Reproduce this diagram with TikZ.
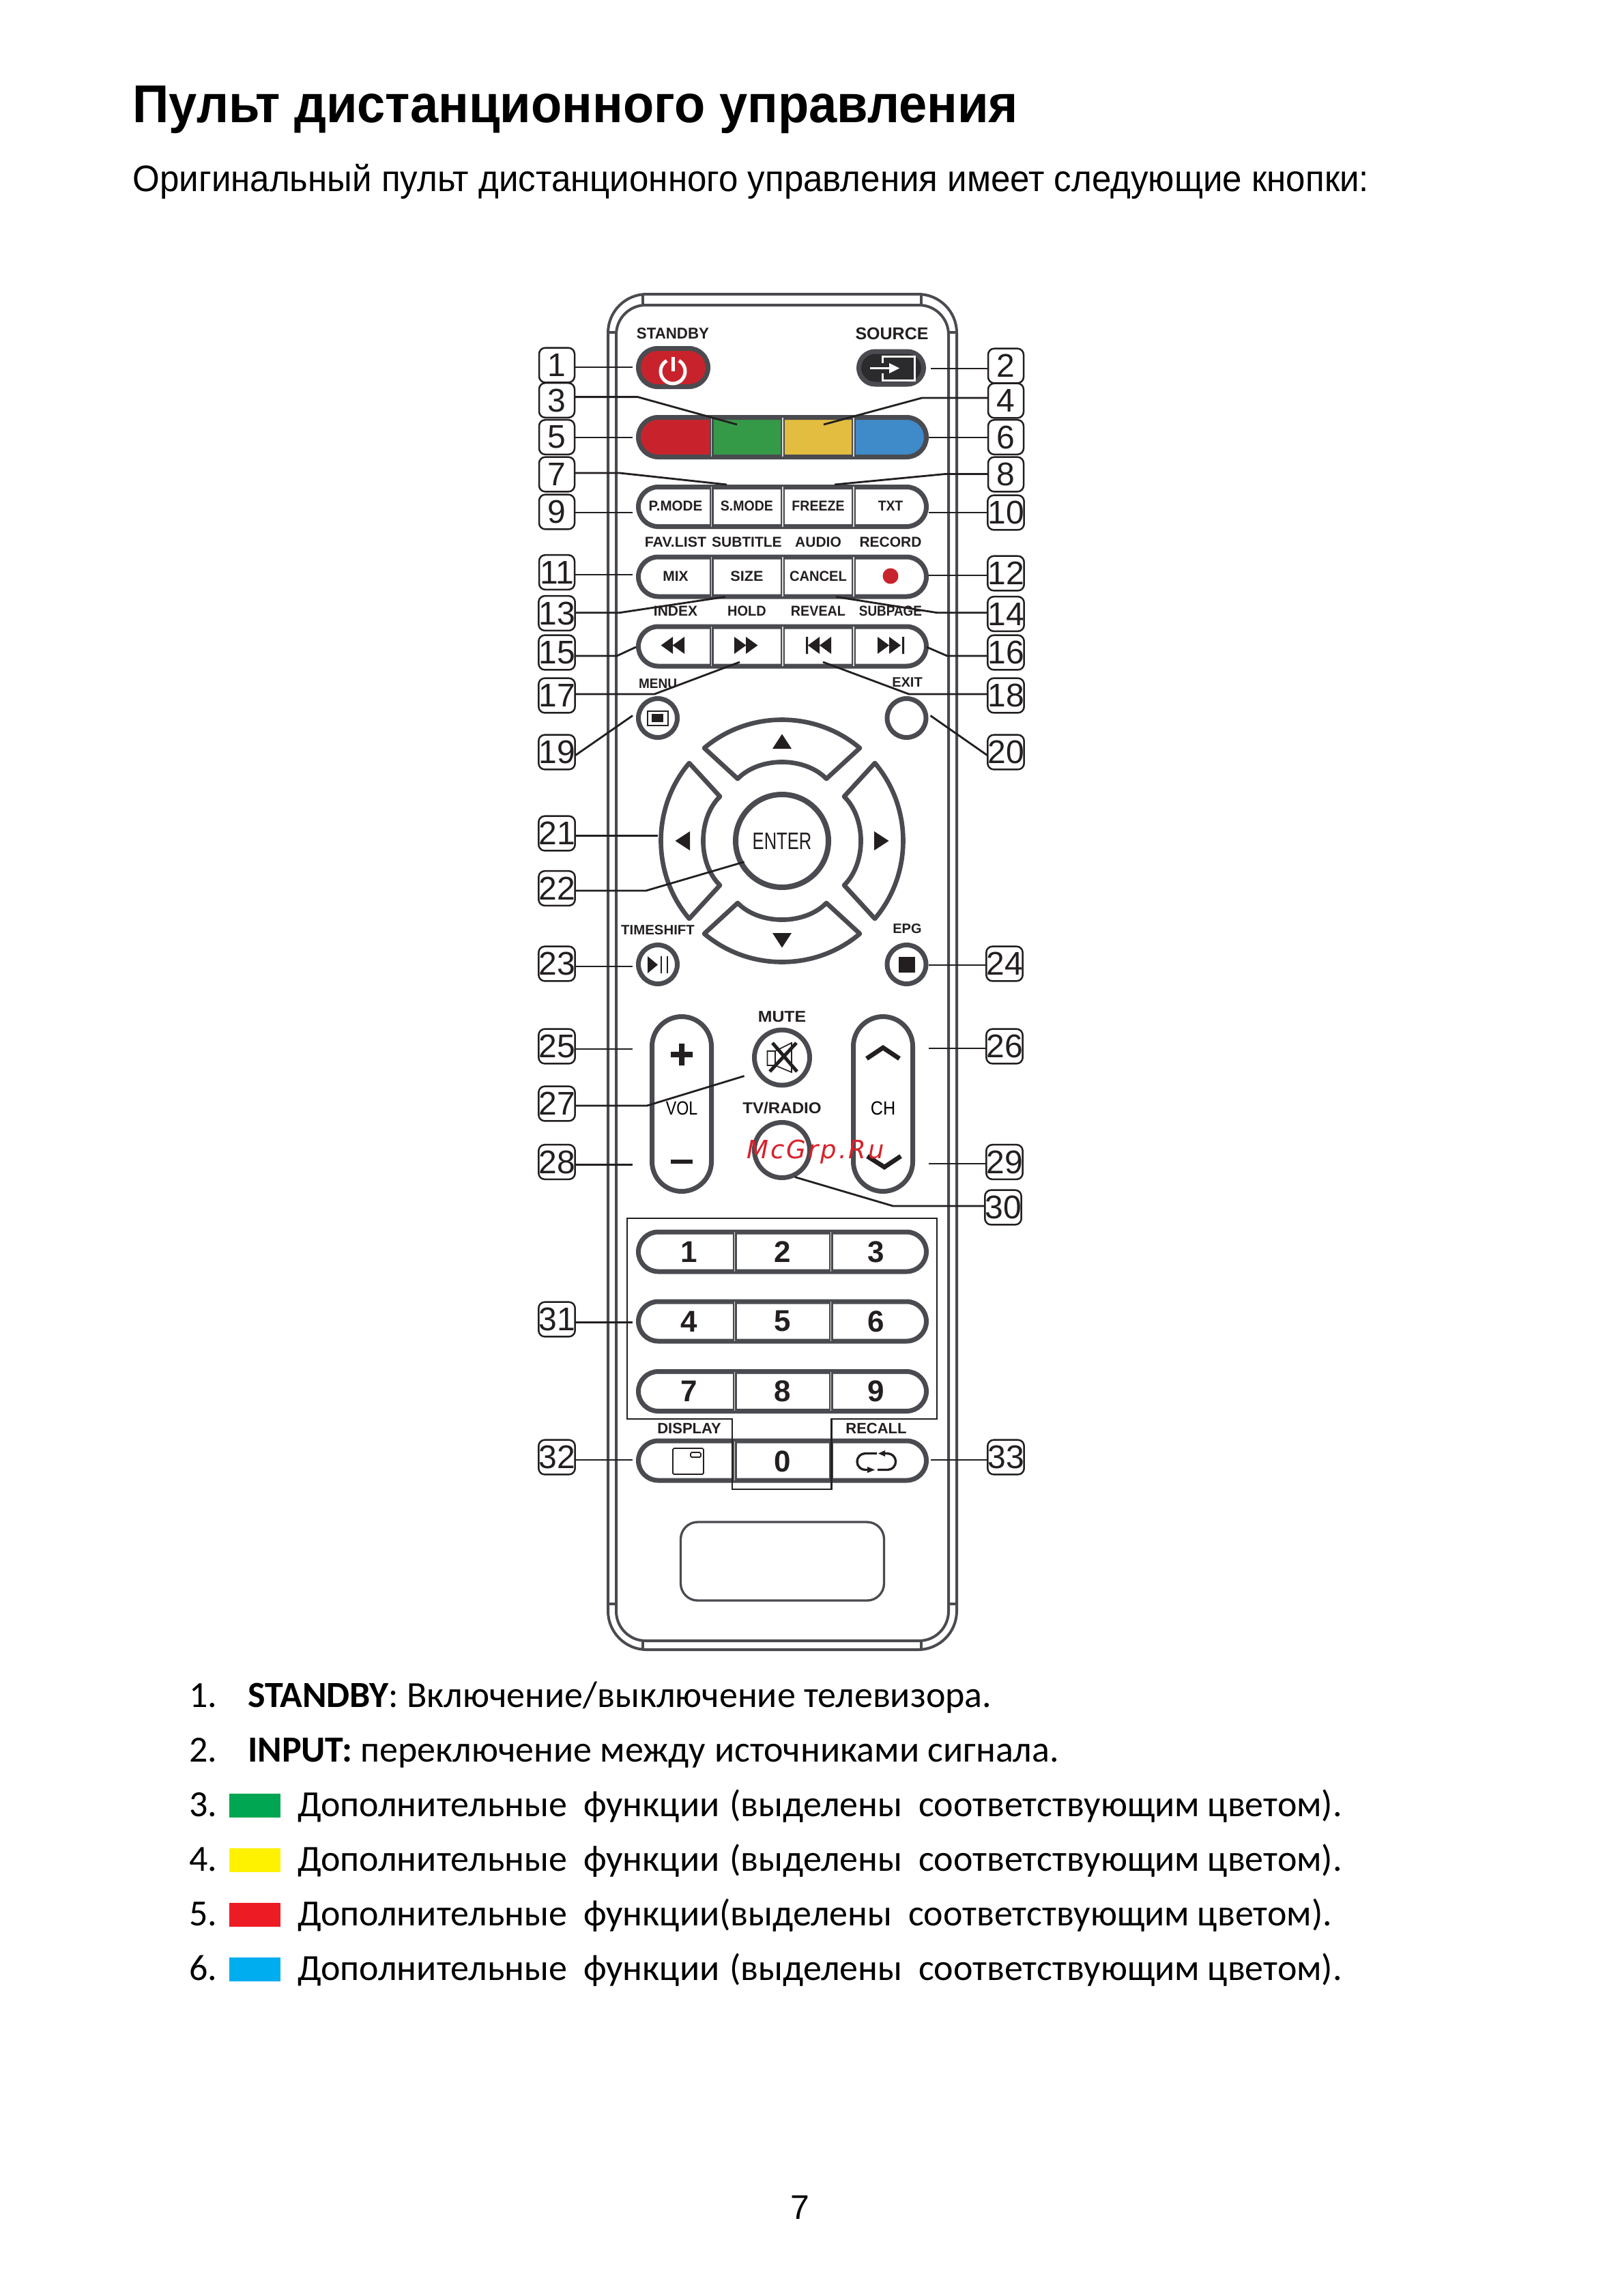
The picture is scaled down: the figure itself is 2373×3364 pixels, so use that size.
\documentclass[tikz,border=0pt]{standalone}
\usepackage{fontspec}
\setmainfont{Liberation Sans}
\newfontfamily\calfont{Carlito}
\newfontfamily\wmfont[LetterSpace=8]{DejaVu Sans}
\usetikzlibrary{shapes.misc,calc}
\definecolor{kg}{HTML}{4A4B50}
\definecolor{kk}{HTML}{231F20}
\definecolor{kR}{HTML}{C8232C}
\definecolor{kD}{HTML}{2B2A2D}
\definecolor{kG}{HTML}{359A48}
\definecolor{kY}{HTML}{E3BD3F}
\definecolor{kB}{HTML}{3F8AC8}
\definecolor{kGs}{HTML}{00A651}
\definecolor{kYs}{HTML}{FFF200}
\definecolor{kRs}{HTML}{ED1C24}
\definecolor{kBs}{HTML}{00AEEF}
\definecolor{kW}{HTML}{D8202A}
\newcommand{\fp}[1]{\fontsize{\fpeval{#1*0.3}pt}{\fpeval{#1*0.36}pt}\selectfont}
\newcommand{\nar}[2]{\scalebox{#1}[1]{#2}}
\tikzset{
 x=0.3pt,y=-0.3pt,
 bodyline/.style={draw=kg,line width=1.2pt},
 pillst/.style={rounded rectangle,draw=kg,line width=2.1pt,inner sep=0pt,outer sep=0pt,fill=white,minimum width=0.3pt*422,minimum height=0.3pt*58},
 circst/.style={circle,draw=kg,line width=2.1pt,inner sep=0pt,outer sep=0pt,minimum size=0.3pt*57,fill=white},
 bigcirc/.style={circle,draw=kg,line width=2.1pt,inner sep=0pt,outer sep=0pt,minimum size=0.3pt*81,fill=white},
 sepst/.style={draw=kg,line width=1.8pt},
 sepin/.style={draw=white!85!black,line width=0.35pt},
 num/.style={draw=kk,line width=0.75pt,rounded corners=2.7pt,inner sep=0pt,outer sep=0pt,minimum width=15.6pt,minimum height=15.2pt,font=\fp{48},text=kk},
 lead/.style={draw=kk,line width=0.85pt},
 kl/.style={font=\fp{21}\bfseries,text=kk,inner sep=0pt,outer sep=0pt},
 dg/.style={font=\fp{44}\bfseries,text=kk,inner sep=0pt},
 bodytxt/.style={font=\calfont\fp{54},text=black,anchor=base west,inner sep=0pt,outer sep=0pt},
 ic/.style={fill=kk,draw=none},
 icl/.style={draw=kk,line width=1pt},
 swatch/.style={draw=none,inner sep=0pt,outer sep=0pt,minimum width=0.3pt*75,minimum height=0.3pt*35},
}
\newcommand{\sepsat}[2]{\foreach \s in {1042.5,1147,1251}{\draw[sepst] (\s,#1)--(\s,#2);\draw[sepin] (\s,#1)--(\s,#2);}}
\newcommand{\dsepsat}[2]{\foreach \s in {1076.5,1217.5}{\draw[sepst] (\s,#1)--(\s,#2);\draw[sepin] (\s,#1)--(\s,#2);}}
\newcommand{\dpline}{Дополнительные\hspace{7.2pt}функции\hspace{4.5pt}(выделены\hspace{7pt}соответствующим\hspace{3.5pt}цветом).}
\begin{document}
\begin{tikzpicture}
\useasboundingbox[fill=white] (0,0) rectangle (2373,3364);
% heading
\node[font=\fp{78}\bfseries,anchor=base west,inner sep=0pt] (title) at (194,179) {\nar{.95}{Пульт дистанционного управления}};
\node[font=\fp{54},anchor=base west,inner sep=0pt] (sub) at (194,280) {\nar{.946}{Оригинальный пульт дистанционного управления имеет следующие кнопки:}};
% remote body
\path[bodyline,rounded corners=17pt] (891,431) rectangle (1402,2417);
\path[bodyline,rounded corners=13pt] (903,447) rectangle (1390,2404);
\draw[bodyline] (942,431)--(942,447) (1350,431)--(1350,447) (891,487)--(903,487) (1390,487)--(1402,487);
\draw[bodyline] (942,2404)--(942,2417) (1350,2404)--(1350,2417) (891,2350)--(903,2350) (1390,2350)--(1402,2350);
% recess
\node[draw=kg,line width=1pt,rounded corners=7.5pt,inner sep=0pt,minimum width=0.3pt*298,minimum height=0.3pt*115] (recess) at (1146.5,2287.5) {};
% top keys
\node[pillst,fill=kR,minimum width=0.3pt*102,minimum height=0.3pt*56] (standby) at (986.5,538.5) {};
\node[pillst,fill=kD,minimum width=0.3pt*95,minimum height=0.3pt*48] (source) at (1306,539) {};
\draw[white,line width=1.5pt] (995,528.4) arc[start angle=-60,end angle=240,radius=18];
\draw[white,line width=1.5pt] (986,523)--(986,544);
\draw[white,line width=0.9pt] (1293,532)--(1293,522)--(1340,522)--(1340,557)--(1293,557)--(1293,547);
\draw[white,line width=0.9pt] (1275,539.5)--(1305,539.5);
\fill[white] (1303,532)--(1318,539.5)--(1303,547)--cycle;
\node[kl,font=\fp{23}\bfseries] (tstandby) at (986,489) {\nar{.97}{STANDBY}};
\node[kl,font=\fp{25}\bfseries] (tsource) at (1307,489) {SOURCE};
% colour bar
\begin{scope}
\clip[rounded corners=8.7pt] (935.5,611.5) rectangle (1357.5,669.5);
\fill[kR] (930,600) rectangle (1042,680);
\fill[kG] (1042,600) rectangle (1147,680);
\fill[kY] (1147,600) rectangle (1251,680);
\fill[kB] (1251,600) rectangle (1361,680);
\end{scope}
\node[pillst,fill=none] (colorbar) at (1146.5,640.5) {};
\sepsat{612}{669}
% text rows
\node[pillst] (row1) at (1146.5,742.5) {};
\sepsat{713}{772}
\node[pillst] (row2) at (1146.5,845) {};
\sepsat{816}{874}
\node[pillst] (row3) at (1146.5,947) {};
\sepsat{918}{976}
\foreach \t/\x/\f in {P.MODE/990/.98,S.MODE/1094.4/.93,FREEZE/1199/.93,TXT/1305/.92}{\node[kl] (k\t) at (\x,741) {\nar{\f}{\t}};}
\foreach \t/\x/\f in {FAV.LIST/990/1.02,SUBTITLE/1094.4/1,AUDIO/1199/1,RECORD/1305/1}{\node[kl] (k\t) at (\x,794) {\nar{\f}{\t}};}
\foreach \t/\x/\f in {MIX/990/1,SIZE/1094.4/1.03,CANCEL/1199/.96}{\node[kl] (k\t) at (\x,844) {\nar{\f}{\t}};}
\node[circle,fill=kR,inner sep=0pt,minimum size=0.3pt*23] (recdot) at (1305,844) {};
\foreach \t/\x/\f in {INDEX/990/1,HOLD/1094.4/.95,REVEAL/1199/.94,SUBPAGE/1305/.9}{\node[kl] (k\t) at (\x,895.5) {\nar{\f}{\t}};}
% transport icons
\fill[kk] (986,933)--(986,958)--(968.6,945.5)--cycle (1003,933)--(1003,958)--(985.6,945.5)--cycle;
\fill[kk] (1076,933)--(1076,958)--(1093.4,945.5)--cycle (1093,933)--(1093,958)--(1110.4,945.5)--cycle;
\fill[kk] (1181,933) rectangle (1184,958) (1201,933)--(1201,958)--(1184,945.5)--cycle (1218,933)--(1218,958)--(1201,945.5)--cycle;
\fill[kk] (1286,933)--(1286,958)--(1303,945.5)--cycle (1303,933)--(1303,958)--(1320,945.5)--cycle (1322,933) rectangle (1325,958);
% round keys
\node[circst] (menu) at (964,1052) {};
\node[circst] (exit) at (1328.5,1052) {};
\node[circst] (timeshift) at (964,1413) {};
\node[circst] (epg) at (1328.5,1413) {};
\node[kl,font=\fp{20}\bfseries] (tmenu) at (964,1002) {\nar{.95}{MENU}};
\node[kl,font=\fp{20}\bfseries] (texit) at (1329.5,1000) {\nar{1}{EXIT}};
\node[kl,font=\fp{20}\bfseries] (ttimeshift) at (964,1363) {\nar{1.02}{TIMESHIFT}};
\node[kl,font=\fp{20}\bfseries] (tepg) at (1329.5,1361) {\nar{1}{EPG}};
\draw[kk,line width=0.5pt] (949,1042) rectangle (979,1063);
\fill[kk] (955,1046) rectangle (972,1058);
\fill[kk] (949,1401)--(949,1426)--(964,1413.5)--cycle;
\draw[kk,line width=0.8pt] (969,1401)--(969,1426) (978,1401)--(978,1426);
\fill[kk] (1317,1402) rectangle (1341,1425);
% direction pad
\foreach \a in {0,90,180,270}{
 \begin{scope}[shift={(1146,1232)},rotate=\a]
 \draw[draw=kg,line width=2pt,fill=white,line join=round] (-114,-136) .. controls (-49,-191.3) and (49,-191.3) .. (114,-136) -- (65,-91) .. controls (33,-123.7) and (-33,-123.7) .. (-65,-91) -- cycle;
 \fill[kk] (0,-156.5)--(14,-135)--(-14,-135)--cycle;
 \end{scope}}
\node[circle,draw=kg,line width=2.4pt,inner sep=0pt,outer sep=0pt,minimum size=0.3pt*136,font=\fp{35},text=kk] (enter) at (1146,1232) {\nar{.73}{ENTER}};
% volume and channel
\node[rounded rectangle,rotate=90,draw=kg,line width=2.1pt,inner sep=0pt,outer sep=0pt,minimum width=0.3pt*256,minimum height=0.3pt*87] (vol) at (999,1617.5) {};
\node[rounded rectangle,rotate=90,draw=kg,line width=2.1pt,inner sep=0pt,outer sep=0pt,minimum width=0.3pt*256,minimum height=0.3pt*87] (ch) at (1294,1617.5) {};
\fill[kk] (983,1541) rectangle (1015,1549) (995,1529) rectangle (1003,1561);
\fill[kk] (983,1698.5) rectangle (1015,1704.5);
\node[kl,font=\fp{28},inner sep=0pt,text=black] (tvol) at (999,1623.5) {\nar{.83}{VOL}};
\node[kl,font=\fp{28},inner sep=0pt,text=black] (tch) at (1294,1623.5) {\nar{.9}{CH}};
\draw[kk,line width=2pt] (1270,1551)--(1294,1535)--(1318,1551);
\draw[kk,line width=2pt] (1271,1694)--(1296,1710)--(1320,1694);
\node[bigcirc] (mute) at (1146,1549.5) {};
\node[bigcirc] (tvradio) at (1146,1685) {};
\node[kl,font=\fp{23}\bfseries] (tmute) at (1146,1490) {\nar{1.08}{MUTE}};
\node[kl,font=\fp{23}\bfseries] (ttvradio) at (1146,1623.5) {\nar{1.05}{TV/RADIO}};
\draw[kk,line width=0.5pt] (1124.5,1540) rectangle (1136,1561) (1136,1540)--(1160,1528)--(1160,1571)--(1136,1561);
\draw[kk,line width=1.5pt] (1132,1528)--(1168,1570) (1128,1570)--(1167,1528);
% digit keys
\node[pillst] (d123) at (1146.5,1834) {};
\dsepsat{1805}{1863}
\node[pillst] (d456) at (1146.5,1936) {};
\dsepsat{1907}{1965}
\node[pillst] (d789) at (1146.5,2038.5) {};
\dsepsat{2010}{2067}
\node[pillst] (d0) at (1146.5,2140) {};
\dsepsat{2112}{2169}
\foreach \t/\x/\y in {1/1010/1834,2/1146.5/1834,3/1284/1834,4/1010/1936,5/1146.5/1936,6/1284/1936,7/1010/2038.5,8/1146.5/2038.5,9/1284/2038.5,0/1146.5/2141}{\node[dg] (dig\t) at (\x,\y) {\t};}
\node[kl,font=\fp{22}\bfseries] (tdisplay) at (1010,2093) {\nar{1}{DISPLAY}};
\node[kl,font=\fp{22}\bfseries] (trecall) at (1284,2093) {\nar{1}{RECALL}};
\draw[kk,line width=0.5pt,rounded corners=0.5pt] (986,2122)--(1031,2122)--(1031,2160)--(986,2160)--cycle (1012,2128) rectangle (1027,2135);
\draw[icl,rounded corners=3.6pt] (1285,2129.5)--(1256,2129.5)--(1256,2153.5)--(1272,2153.5);
\draw[icl,rounded corners=3.6pt] (1286,2153.5)--(1312.6,2153.5)--(1312.6,2129.5)--(1296,2129.5);
\fill[kk] (1297,2125)--(1297,2134)--(1287,2129.5)--cycle (1271,2149)--(1271,2158)--(1282,2153.5)--cycle;
% outline of the digit group
\draw[draw=kk,line width=0.85pt] (919,1785) -- (1373,1785) -- (1373,2079) -- (1218.5,2079) -- (1218.5,2182) -- (1073,2182) -- (1073,2079) -- (919,2079) -- cycle;
% number tags
\foreach \n/\x/\y in {1/816/535,3/816/586.5,5/816/640.5,7/816/695,9/816/750,11/816/838.5,13/816/898.5,15/816/956,17/816/1019,19/816/1102,21/816/1221,22/816/1301.5,23/816/1412,25/816/1533,27/816/1617,28/816/1702.5,31/816/1933,32/816/2135,2/1474/536,4/1474/587,6/1474/640.5,8/1474/695,10/1474/751,12/1474/840,14/1474/899.5,16/1474/956,18/1474/1019,20/1474/1102,24/1472/1412,26/1472/1533,29/1472/1702.5,30/1470/1769,33/1474/2135}{\node[num] (L\n) at (\x,\y) {\n};}
% leaders, straight
\foreach \n/\x/\y in {1/927/538,5/927/641,9/927/751,11/927/842,21/963.6/1224.5,23/927/1416,25/927/1537,28/927/1706.6,31/927/1937.5,32/927/2139}{
 \coordinate (e\n) at (\x,\y);
 \draw[lead] (L\n.east |- e\n) -- (e\n);}
\foreach \n/\x/\y in {2/1363.5/540,6/1361/641,10/1361/751,12/1361/843,24/1361/1414,26/1361/1536,29/1361/1705,33/1363.5/2139}{
 \coordinate (e\n) at (\x,\y);
 \draw[lead] (L\n.west |- e\n) -- (e\n);}
% leaders, with a bend
\foreach \n/\kx/\ky/\x/\y in {3/934.5/581.6/1080/622,7/908/693/1065/710,13/908/897.7/1063/874.4,15/904/961/932/948,17/959/1017/1084/970,22/946.6/1305/1090.6/1262.8,27/948/1620/1090.6/1576.5}{
 \coordinate (k\n) at (\kx,\ky); \coordinate (e\n) at (\x,\y);
 \draw[lead] (L\n.east |- k\n) -- (k\n) -- (e\n);}
\foreach \n/\kx/\ky/\x/\y in {4/1351/583/1207/622,8/1385/694.5/1223/710,14/1373/897.7/1225/874.4,16/1388/961/1358/948,18/1332/1017/1206/970,30/1308.7/1767/1164.7/1724.5}{
 \coordinate (k\n) at (\kx,\ky); \coordinate (e\n) at (\x,\y);
 \draw[lead] (L\n.west |- k\n) -- (k\n) -- (e\n);}
\coordinate (e19) at (927,1048.5);
\coordinate (k19) at (842,1107);
\draw[lead] (L19.east |- k19) -- (e19);
\coordinate (e20) at (1363.5,1048.5);
\coordinate (k20) at (1447,1107);
\draw[lead] (L20.west |- k20) -- (e20);
% watermark
\node[font=\wmfont\itshape\fp{37},text=kW,anchor=base west,inner sep=0pt] (mark) at (1094,1697) {McGrp.Ru};
% list
\foreach \n/\y in {1/2501,2/2581,3/2661,4/2741,5/2821,6/2901}{\node[bodytxt] (n\n) at (277,\y) {\n.};}
\node[bodytxt] (t1) at (363,2501) {\textbf{STANDBY}: Включение/выключение телевизора.};
\node[bodytxt] (t2) at (363,2581) {\textbf{INPUT:} переключение между\hspace{4pt}источниками сигнала.};
\node[swatch,fill=kGs] (s3) at (373.5,2645) {};
\node[swatch,fill=kYs] (s4) at (373.5,2725) {};
\node[swatch,fill=kRs] (s5) at (373.5,2805) {};
\node[swatch,fill=kBs] (s6) at (373.5,2885) {};
\node[bodytxt] (t3) at (436,2661) {\dpline};
\node[bodytxt] (t4) at (436,2741) {\dpline};
\node[bodytxt] (t5) at (436,2821) {Дополнительные\hspace{7.2pt}функции(выделены\hspace{7pt}соответствующим\hspace{3.5pt}цветом).};
\node[bodytxt] (t6) at (436,2901) {\dpline};
\node[font=\fp{50},anchor=base,inner sep=0pt] (pg) at (1172,3251) {7};
\end{tikzpicture}
\end{document}
